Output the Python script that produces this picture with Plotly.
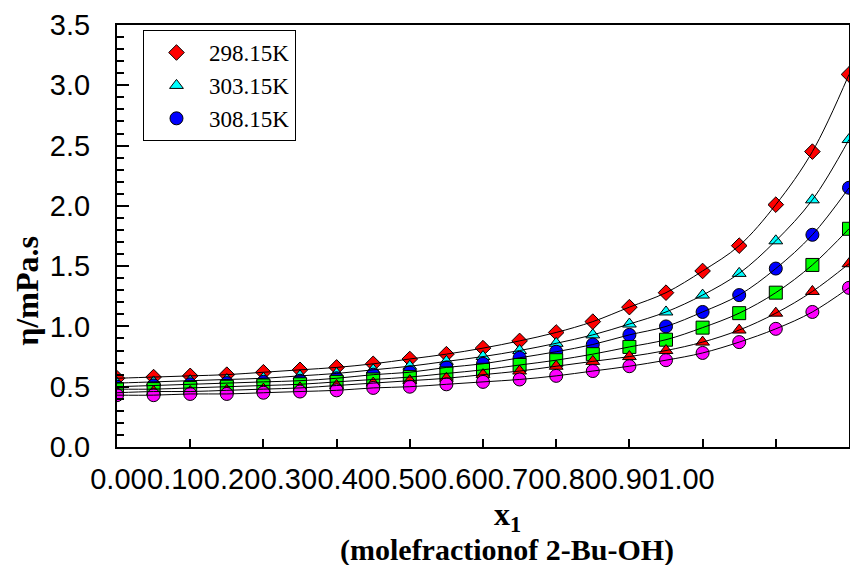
import plotly.graph_objects as go

x1 = [0.00, 0.05, 0.10, 0.15, 0.20, 0.25, 0.30, 0.35, 0.40, 0.45, 0.50,
      0.55, 0.60, 0.65, 0.70, 0.75, 0.80, 0.85, 0.90, 0.95, 1.00]

eta_298 = [0.57, 0.58, 0.59, 0.60, 0.62, 0.64, 0.66, 0.69, 0.73, 0.77, 0.82,
           0.88, 0.95, 1.04, 1.16, 1.28, 1.46, 1.67, 2.01, 2.45, 3.09]
eta_303 = [0.53, 0.54, 0.55, 0.56, 0.57, 0.59, 0.61, 0.64, 0.67, 0.71, 0.75,
           0.80, 0.86, 0.93, 1.02, 1.12, 1.26, 1.44, 1.71, 2.05, 2.55]
eta_308 = [0.50, 0.51, 0.52, 0.53, 0.54, 0.55, 0.57, 0.60, 0.62, 0.66, 0.69,
           0.74, 0.79, 0.85, 0.93, 1.00, 1.12, 1.26, 1.48, 1.76, 2.15]
eta_s4 = [0.48, 0.48, 0.49, 0.50, 0.51, 0.52, 0.54, 0.56, 0.58, 0.61, 0.64,
          0.68, 0.72, 0.77, 0.83, 0.89, 0.99, 1.11, 1.28, 1.51, 1.81]
eta_s5 = [0.45, 0.46, 0.46, 0.47, 0.48, 0.49, 0.51, 0.53, 0.55, 0.57, 0.60,
          0.63, 0.67, 0.71, 0.75, 0.80, 0.87, 0.97, 1.11, 1.29, 1.52]
eta_s6 = [0.43, 0.43, 0.44, 0.44, 0.45, 0.46, 0.47, 0.49, 0.50, 0.52, 0.54,
          0.56, 0.59, 0.63, 0.67, 0.72, 0.78, 0.87, 0.98, 1.12, 1.32]

series = [
    ("298.15K", eta_298, "diamond", "#FF0000", 12, True),
    ("303.15K", eta_303, "triangle-up", "#00FFFF", 12, True),
    ("308.15K", eta_308, "circle", "#0000FF", 13, True),
    ("s4", eta_s4, "square", "#00FF00", 13, False),
    ("s5", eta_s5, "triangle-up", "#FF0000", 12, False),
    ("s6", eta_s6, "circle", "#FF00FF", 13, False),
]

x_tick_vals = [0.0, 0.1, 0.2, 0.3, 0.4, 0.5, 0.6, 0.7, 0.8, 0.9, 1.0]
x_tick_text = ["0.00", "0.10", "0.20", "0.30", "0.40", "0.50",
               "0.60", "0.70", "0.80", "0.90", "1.00"]
y_tick_vals = [0.0, 0.5, 1.0, 1.5, 2.0, 2.5, 3.0, 3.5]
y_tick_text = ["0.0", "0.5", "1.0", "1.5", "2.0", "2.5", "3.0", "3.5"]

x_title = "<b>x<sub>1</sub></b>"
x_subtitle = "<b>(molefractionof 2-Bu-OH)</b>"
y_title = "<b>η/mPa.s</b>"

fig = go.Figure()

for name, vals, sym, col, sz, leg in series:
    fig.add_trace(go.Scatter(
        x=x1, y=vals, mode="markers", name=name, showlegend=leg,
        marker=dict(symbol=sym, color=col, size=sz,
                    line=dict(color="black", width=1)),
        hoverinfo="skip"))

for name, vals, sym, col, sz, leg in series:
    fig.add_trace(go.Scatter(
        x=x1, y=vals, mode="lines", showlegend=False,
        line=dict(color="black", width=1, shape="spline", smoothing=1.0),
        hoverinfo="skip"))

# invisible trace for the label axis
fig.add_trace(go.Scatter(x=x_tick_vals, y=[None] * len(x_tick_vals),
                         xaxis="x2", yaxis="y", mode="markers",
                         showlegend=False, hoverinfo="skip"))

tick_font = dict(family="Liberation Sans, Arial", size=29, color="black")
serif = "Liberation Serif, Times New Roman"

fig.update_layout(
    width=850, height=565,
    margin=dict(l=117, r=1, t=25, b=118, autoexpand=False),
    paper_bgcolor="white", plot_bgcolor="white",
    xaxis=dict(
        range=[0, 1.0], tickvals=x_tick_vals, showticklabels=False,
        ticks="inside", ticklen=8, tickwidth=2, tickcolor="black",
        showline=True, linecolor="black", linewidth=2, mirror=True,
        showgrid=False, zeroline=False, automargin=False),
    xaxis2=dict(
        overlaying="x", anchor="y", side="bottom",
        range=[-0.0025, 1.286], tickvals=x_tick_vals, ticktext=x_tick_text,
        tickangle=0, ticks="", showline=False, showgrid=False, zeroline=False,
        tickfont=tick_font, ticklabelstandoff=12, automargin=False),
    yaxis=dict(
        range=[0, 3.5], tickvals=y_tick_vals, ticktext=y_tick_text,
        ticks="inside", ticklen=12, tickwidth=2, tickcolor="black",
        minor=dict(ticks="inside", ticklen=7, tickwidth=2, dtick=0.1,
                   tickcolor="black", showgrid=False),
        showline=True, linecolor="black", linewidth=2, mirror=True,
        showgrid=False, zeroline=False, tickfont=tick_font,
        ticklabelstandoff=19, automargin=False),
    legend=dict(
        x=0.0355, y=0.988, xanchor="left", yanchor="top",
        bgcolor="white", bordercolor="black", borderwidth=1,
        font=dict(family=serif, size=23, color="black"),
        itemwidth=55, tracegroupgap=0),
    showlegend=True,
    annotations=[
        dict(text=x_title, xref="paper", yref="paper", x=0.533, y=-0.164,
             xanchor="center", yanchor="middle", showarrow=False,
             font=dict(family=serif, size=32, color="black")),
        dict(text=x_subtitle, xref="paper", yref="paper", x=0.533, y=-0.245,
             xanchor="center", yanchor="middle", showarrow=False,
             font=dict(family=serif, size=30, color="black")),
        dict(text=y_title, xref="paper", yref="paper", x=-0.123, y=0.37,
             xanchor="center", yanchor="middle", showarrow=False,
             textangle=-90,
             font=dict(family=serif, size=32, color="black")),
    ],
)

fig.write_html(
    "out.html",
    config={"displayModeBar": False},
    post_script="document.body.style.margin='0';"
                "document.body.style.overflow='hidden';")
